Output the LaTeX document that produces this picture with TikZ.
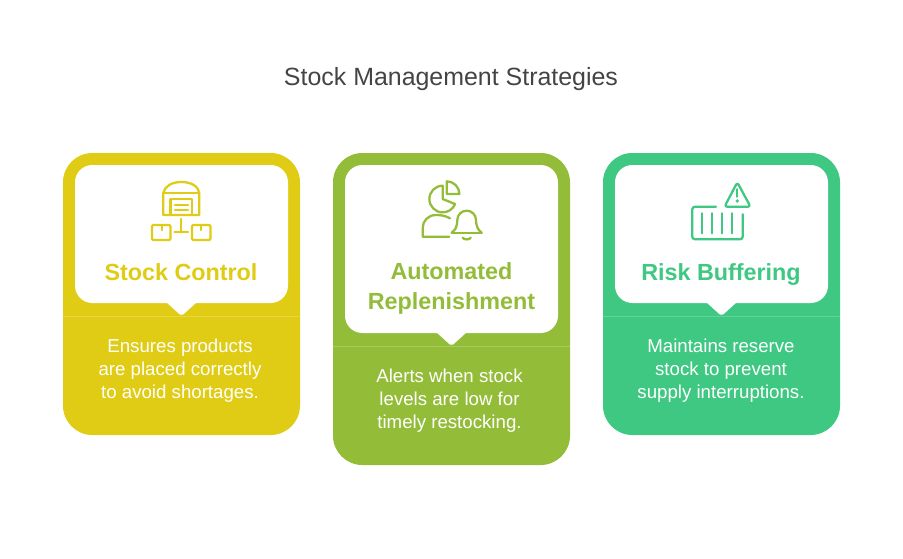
\documentclass[tikz,border=0pt]{standalone}
\usepackage{fontspec}
\setmainfont{Liberation Sans}
\definecolor{stockyellow}{HTML}{E0CC14}
\definecolor{replgreen}{HTML}{93BC38}
\definecolor{riskgreen}{HTML}{3EC882}
\definecolor{titlegray}{HTML}{444444}
\tikzset{
  title/.style={text=titlegray,font=\fontsize{18.7}{22}\selectfont},
  heading/.style={font=\fontsize{17.5}{22}\selectfont\bfseries,align=center},
  body/.style={text=white,font=\fontsize{14}{17}\selectfont,align=center},
  icon/.style={line width=1.7pt,line cap=round,line join=round},
}
\begin{document}
\begin{tikzpicture}[x=0.75pt,y=-0.75pt]
        \useasboundingbox (0,0) rectangle (903,558);
        % Title
        \node[title] (title) at (451,79) {Stock Management Strategies};
        % Cards
        \foreach \cardx/\cardbottom/\splity/\cardcolor in {63/435/316/stockyellow,333/465/346/replgreen,603/435/316/riskgreen} {
          \fill[\cardcolor,rounded corners=22pt] (\cardx,153) rectangle (\cardx+237,\cardbottom);
          \draw[white,opacity=0.2,line width=0.5pt] (\cardx,\splity) -- (\cardx+237,\splity);
          \fill[white,rounded corners=13pt] (\cardx+12,165) -- (\cardx+225,165) -- (\cardx+225,\splity-13) -- (\cardx+12,\splity-13) -- cycle;
          \fill[white,rounded corners=1.5pt] (\cardx+103,\splity-14) -- (\cardx+134,\splity-14) -- (\cardx+118.5,\splity) -- cycle;
        }
        % Stock Control
        \node[heading,text=stockyellow] (stockhead) at (181,272) {Stock Control};
        \node[body] (stockbody) at (180,370.5) {Ensures products\\are placed correctly\\to avoid shortages.};
        \begin{scope}[icon,draw=stockyellow]
          \draw (163.3,215) -- (163.3,192.7) .. controls (165,186) and (172,182) .. (181.3,182) .. controls (191,182) and (198,186) .. (199.3,192.7) -- (199.3,215) -- cycle;
          \draw (163.3,192.7) -- (199.3,192.7);
          \draw (170.5,215) -- (170.5,199.3) -- (192,199.3) -- (192,215);
          \draw (175,205) -- (188,205);
          \draw (175,210) -- (188,210);
          \draw (181,219) -- (181,232);
          \draw (174.5,232) -- (188,232);
          \draw[rounded corners=1pt] (152,225) rectangle (170.5,240);
          \draw[rounded corners=1pt] (192,225) rectangle (210.5,240);
          \draw (162,225) -- (162,230);
          \draw (201,225) -- (201,230);
        \end{scope}
        % Automated Replenishment
        \node[heading,text=replgreen] (replhead) at (451.5,288.5) {Automated\\Replenishment};
        \node[body] (replbody) at (449.5,400.5) {Alerts when stock\\levels are low for\\timely restocking.};
        \begin{scope}[icon,draw=replgreen]
          \draw (442.7,185.7) arc (90:338:10pt) -- (442.7,199) -- cycle;
          \draw (446.7,194) -- (459.4,194) arc (0:90:9.5pt) -- cycle;
          \draw (450,218.3) .. controls (445,215.5) and (440,215) .. (436,215) .. controls (428,215) and (422.7,221) .. (422.7,228) -- (422.7,236.7) -- (449.3,236.7);
          \draw (451.7,232.7) -- (481.7,232.7);
          \draw (451.7,232.7) .. controls (455,230) and (457,228) .. (457.3,220) arc (180:0:7pt) .. controls (476.4,228) and (478.5,230) .. (481.7,232.7);
          \draw (462.7,237.7) .. controls (464,240) and (469.5,240) .. (470.7,237.7);
        \end{scope}
        % Risk Buffering
        \node[heading,text=riskgreen] (riskhead) at (721,274.5) {Risk Buffering};
        \node[body] (riskbody) at (721,370.5) {Maintains reserve\\stock to prevent\\supply interruptions.};
        \begin{scope}[icon,draw=riskgreen]
          \draw[rounded corners=2pt] (716,206.7) -- (692.3,206.7) -- (692.3,239.3) -- (742.7,239.3) -- (742.7,214.3);
          \foreach \barx in {702.3,712.3,722.3,732.3} {
            \draw (\barx,213.3) -- (\barx,233.3);
          }
          \draw[rounded corners=2pt] (737.3,182.3) -- (750.5,206.7) -- (724.5,206.7) -- cycle;
          \draw (737.3,189.3) -- (737.3,196.7);
          \fill[riskgreen] (737.3,201) circle (1.4pt);
        \end{scope}
      \end{tikzpicture}
\end{document}
